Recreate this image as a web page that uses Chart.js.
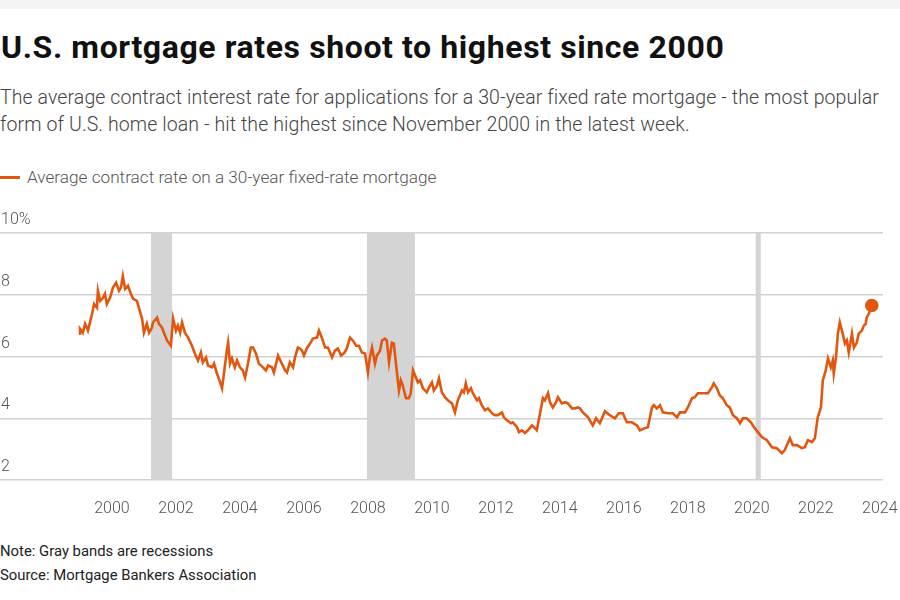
<!DOCTYPE html>
<html>
<head>
<meta charset="utf-8">
<script src="https://cdn.jsdelivr.net/npm/chart.js@4.4.0/dist/chart.umd.min.js"></script>
<style>
  body { margin: 0; background: #fff; font-family: Roboto, sans-serif; width: 900px; height: 600px; position: relative; overflow: hidden; }
  .strip { position: absolute; left: 0; top: 0; width: 900px; height: 9px; background: #f5f3f6; }
  h1 { position: absolute; left: 1px; top: 28px; margin: 0; font-size: 32px; line-height: 38px; font-weight: 700; letter-spacing: 0.6px; color: #111; white-space: nowrap; }
  .sub { position: absolute; left: 0; top: 84px; margin: 0; font-size: 19.5px; line-height: 27px; font-weight: 300; letter-spacing: 0.1px; color: #444; white-space: nowrap; }
  .legend { position: absolute; left: 0; top: 167px; font-size: 17.2px; line-height: 20px; font-weight: 300; color: #555; white-space: nowrap; }
  .legend i { display: inline-block; width: 20px; height: 3px; background: #e2570f; vertical-align: middle; margin-right: 7px; position: relative; top: -1px; }
  canvas { position: absolute; left: 0; top: 195px; }
  .foot { position: absolute; left: 0; top: 539px; font-size: 14.85px; line-height: 24px; color: #222; }
</style>
</head>
<body>
<div class="strip"></div>
<h1>U.S. mortgage rates shoot to highest since 2000</h1>
<p class="sub">The average contract interest rate for applications for a 30-year fixed rate mortgage - the most popular<br>form of U.S. home loan - hit the highest since November 2000 in the latest week.</p>
<div class="legend"><i></i>Average contract rate on a 30-year fixed-rate mortgage</div>
<canvas id="rateChart" width="900" height="325"></canvas>
<div class="foot">Note: Gray bands are recessions<br>Source: Mortgage Bankers Association</div>

<script>
// weekly-ish readings, decimal years
const dates = [
  1998.97, 1999.0, 1999.09, 1999.16, 1999.25, 1999.38, 1999.44, 1999.53, 1999.56, 1999.63,
  1999.72, 1999.78, 1999.84, 1999.94, 2000.03, 2000.13, 2000.22, 2000.28, 2000.34, 2000.41,
  2000.5, 2000.59, 2000.66, 2000.78, 2000.84, 2000.94, 2001.0, 2001.09, 2001.16, 2001.25,
  2001.28, 2001.41, 2001.47, 2001.56, 2001.66, 2001.72, 2001.84, 2001.91, 2002.0, 2002.06,
  2002.13, 2002.19, 2002.28, 2002.38, 2002.5, 2002.59, 2002.69, 2002.78, 2002.84, 2002.94,
  2003.0, 2003.13, 2003.19, 2003.28, 2003.34, 2003.44, 2003.5, 2003.59, 2003.63, 2003.69,
  2003.75, 2003.84, 2003.91, 2004.0, 2004.09, 2004.16, 2004.25, 2004.34, 2004.41, 2004.5,
  2004.59, 2004.72, 2004.81, 2004.88, 2005.0, 2005.06, 2005.13, 2005.19, 2005.31, 2005.41,
  2005.47, 2005.56, 2005.66, 2005.72, 2005.81, 2005.88, 2005.94, 2006.0, 2006.09, 2006.19,
  2006.28, 2006.41, 2006.47, 2006.56, 2006.66, 2006.75, 2006.88, 2006.97, 2007.06, 2007.16,
  2007.25, 2007.34, 2007.44, 2007.53, 2007.63, 2007.72, 2007.81, 2007.91, 2008.0, 2008.06,
  2008.13, 2008.22, 2008.28, 2008.38, 2008.44, 2008.53, 2008.59, 2008.66, 2008.75, 2008.81,
  2008.91, 2008.97, 2009.03, 2009.09, 2009.19, 2009.28, 2009.34, 2009.41, 2009.5, 2009.56,
  2009.63, 2009.72, 2009.84, 2009.91, 2010.0, 2010.06, 2010.16, 2010.22, 2010.31, 2010.41,
  2010.5, 2010.63, 2010.72, 2010.81, 2010.94, 2011.0, 2011.06, 2011.13, 2011.22, 2011.28,
  2011.41, 2011.47, 2011.56, 2011.66, 2011.75, 2011.88, 2011.97, 2012.06, 2012.19, 2012.25,
  2012.34, 2012.47, 2012.53, 2012.66, 2012.72, 2012.81, 2012.91, 2013.0, 2013.13, 2013.19,
  2013.28, 2013.38, 2013.47, 2013.53, 2013.63, 2013.69, 2013.78, 2013.88, 2013.94, 2014.06,
  2014.16, 2014.25, 2014.38, 2014.47, 2014.56, 2014.63, 2014.72, 2014.88, 2015.03, 2015.13,
  2015.25, 2015.41, 2015.56, 2015.72, 2015.84, 2015.97, 2016.09, 2016.25, 2016.41, 2016.5,
  2016.66, 2016.75, 2016.88, 2016.94, 2017.03, 2017.13, 2017.22, 2017.38, 2017.53, 2017.66,
  2017.75, 2017.91, 2018.0, 2018.13, 2018.22, 2018.31, 2018.47, 2018.63, 2018.75, 2018.81,
  2018.91, 2019.0, 2019.09, 2019.22, 2019.31, 2019.41, 2019.53, 2019.63, 2019.72, 2019.84,
  2019.97, 2020.09, 2020.19, 2020.31, 2020.47, 2020.63, 2020.78, 2020.94, 2021.03, 2021.19,
  2021.28, 2021.41, 2021.56, 2021.66, 2021.75, 2021.88, 2021.97, 2022.06, 2022.16, 2022.22,
  2022.31, 2022.38, 2022.47, 2022.53, 2022.56, 2022.63, 2022.69, 2022.75, 2022.84, 2022.91,
  2022.97, 2023.03, 2023.13, 2023.19, 2023.28, 2023.34, 2023.44, 2023.5, 2023.56, 2023.59,
  2023.66, 2023.75
];
const rates = [
  6.74, 6.9, 6.77, 7.06, 6.84, 7.39, 7.7, 7.58, 8.13, 7.8,
  7.9, 8.03, 7.7, 7.9, 8.23, 8.39, 8.13, 8.23, 8.6, 8.19,
  8.29, 8.03, 7.87, 7.8, 7.58, 7.23, 6.77, 7.06, 6.77, 6.94,
  7.1, 7.26, 7.06, 6.94, 6.68, 6.52, 6.35, 7.23, 6.84, 7.0,
  6.77, 7.1, 6.77, 6.61, 6.35, 6.1, 5.87, 6.13, 5.81, 5.97,
  5.71, 5.65, 5.77, 5.45, 5.29, 4.97, 5.45, 6.19, 6.45, 5.77,
  5.94, 5.65, 5.87, 5.65, 5.55, 5.32, 5.77, 6.29, 6.29, 6.1,
  5.77, 5.65, 5.55, 5.71, 5.65, 5.48, 5.77, 6.03, 5.77, 5.55,
  5.48, 5.81, 5.65, 5.97, 6.29, 6.26, 6.19, 6.03, 6.26, 6.42,
  6.58, 6.61, 6.84, 6.61, 6.29, 6.29, 5.97, 6.19, 6.26, 6.03,
  6.1, 6.26, 6.61, 6.52, 6.35, 6.35, 6.13, 6.1, 5.48, 5.97,
  6.29, 5.77, 6.03, 6.19, 6.52, 6.58, 6.52, 5.81, 6.45, 6.42,
  5.45, 4.9, 5.23, 5.06, 4.65, 4.65, 4.81, 5.55, 5.32, 5.16,
  5.23, 4.97, 4.84, 5.0, 5.16, 4.9, 5.06, 5.29, 4.84, 4.68,
  4.58, 4.48, 4.19, 4.58, 4.9, 4.84, 5.13, 4.84, 4.97, 4.81,
  4.58, 4.65, 4.42, 4.26, 4.32, 4.16, 4.1, 4.1, 4.19, 4.03,
  3.94, 3.84, 3.87, 3.71, 3.55, 3.61, 3.52, 3.61, 3.77, 3.71,
  3.61, 4.16, 4.65, 4.58, 4.81, 4.52, 4.35, 4.52, 4.68, 4.48,
  4.52, 4.48, 4.32, 4.32, 4.35, 4.32, 4.19, 4.03, 3.77, 4.0,
  3.84, 4.23, 4.1, 4.0, 4.16, 4.16, 3.87, 3.87, 3.77, 3.61,
  3.68, 3.71, 4.35, 4.42, 4.32, 4.42, 4.19, 4.16, 4.16, 4.03,
  4.19, 4.19, 4.35, 4.65, 4.68, 4.81, 4.81, 4.81, 5.0, 5.13,
  4.97, 4.74, 4.65, 4.42, 4.35, 4.1, 4.0, 3.84, 4.0, 4.0,
  3.87, 3.68, 3.55, 3.39, 3.29, 3.06, 3.03, 2.87, 2.97, 3.35,
  3.13, 3.13, 3.03, 3.06, 3.29, 3.23, 3.35, 4.03, 4.35, 5.23,
  5.55, 5.94, 5.65, 5.87, 5.45, 5.97, 6.74, 7.1, 6.74, 6.42,
  6.52, 6.13, 6.74, 6.29, 6.45, 6.74, 6.84, 7.0, 7.06, 7.26,
  7.39, 7.65
];
const recessionStart = [2001.22, 2007.97, 2020.12];
const recessionEnd = [2001.88, 2009.47, 2020.28];
const yearTicks = [2000, 2002, 2004, 2006, 2008, 2010, 2012, 2014, 2016, 2018, 2020, 2022, 2024];
const rateTicks = [2, 4, 6, 8, 10];

const orange = '#e2570f';

const recessionBands = {
  id: 'recessionBands',
  beforeDatasetsDraw(chart) {
    const { ctx, chartArea, scales } = chart;
    ctx.save();
    ctx.fillStyle = '#d4d4d4';
    recessionStart.forEach((s, i) => {
      const x0 = scales.x.getPixelForValue(s);
      const x1 = scales.x.getPixelForValue(recessionEnd[i]);
      ctx.fillRect(x0, chartArea.top, x1 - x0, chartArea.bottom - chartArea.top);
    });
    ctx.restore();
  }
};

const last = rates.length - 1;

new Chart(document.getElementById('rateChart'), {
  type: 'line',
  data: {
    datasets: [{
      label: 'Average contract rate on a 30-year fixed-rate mortgage',
      data: dates.map((d, i) => ({ x: d, y: rates[i] })),
      borderColor: orange,
      backgroundColor: orange,
      borderWidth: 2.6,
      tension: 0,
      pointRadius: c => c.dataIndex === last ? 5.5 : 0,
      pointHoverRadius: 0,
      clip: false
    }]
  },
  options: {
    responsive: false,
    devicePixelRatio: 1,
    animation: false,
    layout: { autoPadding: false, padding: { top: 38, right: 17, left: 0, bottom: 0 } },
    plugins: { legend: { display: false }, tooltip: { enabled: false } },
    scales: {
      x: {
        type: 'linear',
        min: 1996.5,
        max: 2024.1,
        afterBuildTicks: s => { s.ticks = yearTicks.map(v => ({ value: v })); },
        afterFit: s => { s.height = 40; s.paddingLeft = 0; s.paddingRight = 0; },
        grid: { display: false },
        border: { display: false },
        ticks: {
          autoSkip: false,
          maxRotation: 0,
          padding: 11,
          color: '#555',
          font: { family: 'Roboto', size: 16, weight: 300 },
          callback: v => String(v)
        }
      },
      y: {
        min: 2,
        max: 10,
        afterBuildTicks: s => { s.ticks = rateTicks.map(v => ({ value: v })); },
        afterFit: s => { s.width = 0; },
        grid: { color: '#d2d2d2', lineWidth: 1.5, drawTicks: false },
        border: { display: false },
        ticks: {
          mirror: true,
          padding: 1,
          labelOffset: -13,
          color: '#555',
          font: { family: 'Roboto', size: 16, weight: 300 },
          callback: v => v === 10 ? '10%' : String(v)
        }
      }
    }
  },
  plugins: [recessionBands]
});
</script>
</body>
</html>
